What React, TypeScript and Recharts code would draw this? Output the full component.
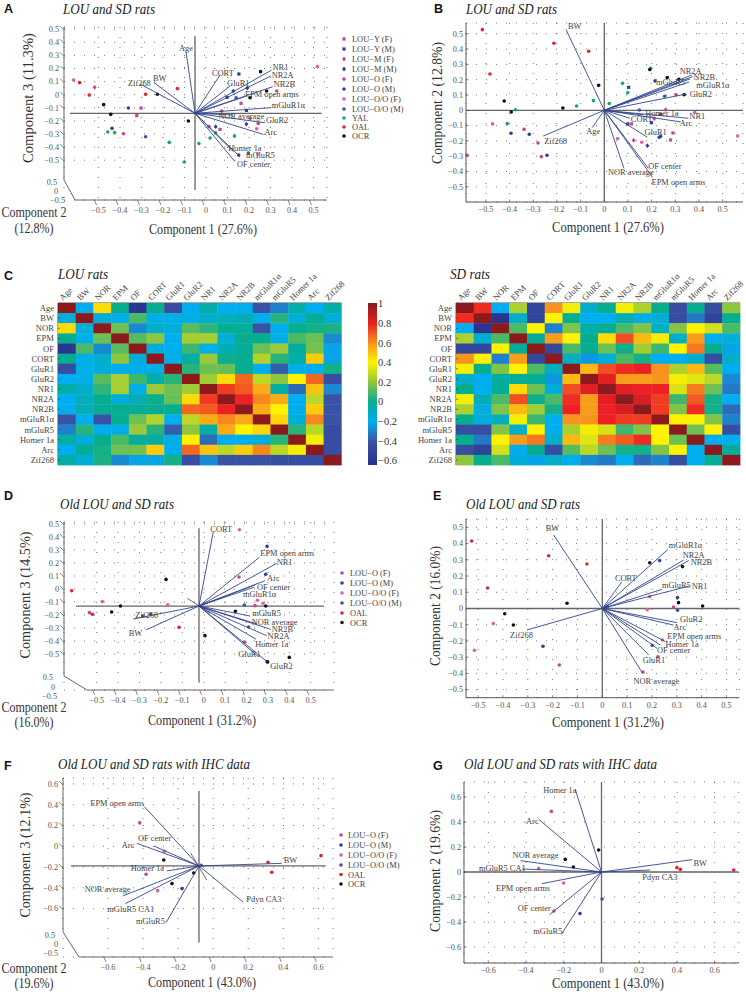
import React from 'react';
import { ScatterChart, Scatter, XAxis, YAxis, CartesianGrid, ReferenceLine, BarChart, Bar } from 'recharts';

const SERIF = '"Liberation Serif", "Times New Roman", serif';
const SANS = '"Liberation Sans", Arial, sans-serif';
const LINE_BLUE = '#33458f';

// ---- panel A ----
const aNames = ['Age', 'CORT', 'Zif268', 'BW', 'NR1', 'NR2A', 'NR2B', 'GluR1', 'EPM open arms', 'mGluR1α', 'NOR average', 'GluR2', 'Arc', 'Homer 1a', 'mGluR5', 'OF center'];
const aVecX = [-0.093, 0.065, -0.307, -0.242, 0.305, 0.301, 0.31, 0.112, 0.181, 0.301, 0.127, 0.274, 0.267, 0.127, 0.158, 0.135];
const aVecY = [0.328, 0.15, 0.081, 0.092, 0.188, 0.142, 0.061, 0.066, -0.015, -0.099, -0.155, -0.214, -0.303, -0.435, -0.473, -0.511];
const aPoints: [string, number[][]][] = [
  ['LOU−Y (F)', [[-0.302, -0.102], [-0.322, -0.16], [0.163, -0.066], [0.065, -0.265]]],
  ['LOU−Y (M)', [[0.153, 0.158], [0.098, -0.02], [0.188, -0.12]]],
  ['LOU−M (F)', [[-0.518, 0.056], [0.073, -0.125], [0.205, -0.181]]],
  ['LOU−M (M)', [[0.127, 0.028], [0.192, 0.051], [0.188, -0.224], [0.045, -0.244]]],
  ['LOU−O (F)', [[0.329, 0.028], [-0.384, -0.298], [0.243, -0.219], [0.014, -0.244]]],
  ['LOU−O (M)', [[-0.361, -0.102], [-0.437, -0.257], [0.152, -0.461]]],
  ['LOU−O/O (F)', [[0.518, 0.214], [-0.616, 0.112], [0.236, -0.26], [0.24, -0.453]]],
  ['LOU−O/O (M)', [[0.14, -0.023], [-0.281, -0.321], [0.197, -0.445]]],
  ['YAL', [[-0.457, -0.285], [-0.425, -0.288], [-0.171, -0.364], [-0.033, -0.372], [0.019, -0.331], [0.045, -0.29], [0.132, -0.316], [-0.101, -0.514]]],
  ['OAL', [[-0.588, 0.092], [-0.543, -0.003], [-0.281, 0.003], [-0.133, 0.046]]],
  ['OCR', [[0.254, 0.176], [0.282, 0.028], [0.205, -0.023], [-0.226, 0.003], [-0.476, -0.076], [-0.443, -0.15], [-0.082, -0.201]]],
];

// ---- panel B ----
const bNames = ['BW', 'NR2A', 'NR2B', 'mGluR5', 'mGluR1α', 'GluR2', 'Homer 1a', 'NR1', 'Arc', 'CORT', 'GluR1', 'OF center', 'EPM open arms', 'NOR average', 'Age', 'Zif268'];
const bVecX = [-0.162, 0.369, 0.373, 0.362, 0.359, 0.348, 0.165, 0.355, 0.323, 0.108, 0.182, 0.186, 0.204, 0.083, -0.051, -0.258];
const bVecY = [0.529, 0.231, 0.22, 0.205, 0.185, 0.107, -0.03, -0.052, -0.076, -0.052, -0.176, -0.379, -0.438, -0.379, -0.113, -0.168];
const bPoints: [string, number[][]][] = [
  ['LOU−Y (F)', [[-0.339, -0.124], [0.115, -0.089], [0.28, -0.194], [0.29, -0.148]]],
  ['LOU−Y (M)', [[0.103, 0.15], [0.099, -0.089], [0.199, -0.081]]],
  ['LOU−M (F)', [[0.211, -0.054], [0.259, 0.004], [0.124, -0.196]]],
  ['LOU−M (M)', [[0.214, 0.192], [0.182, -0.231], [0.238, -0.17]]],
  ['LOU−O (F)', [[-0.58, -0.294], [-0.28, -0.214], [-0.266, -0.303], [0.303, 0.102]]],
  ['LOU−O (M)', [[-0.394, -0.15], [-0.317, -0.157], [-0.242, -0.294], [0.232, -0.176]]],
  ['LOU−O/O (F)', [[-0.472, -0.089], [0.056, -0.185], [0.158, -0.209], [0.382, -0.013], [0.563, -0.168]]],
  ['LOU−O/O (M)', [[0.255, 0.092], [0.148, 0.002], [0.238, -0.026]]],
  ['YAL', [[-0.375, 0.004], [-0.41, -0.087], [-0.117, 0.028], [-0.046, 0.063], [0.021, 0.044], [0.077, 0.176], [0.099, 0.115], [0.196, 0.275]]],
  ['OAL', [[-0.515, 0.527], [-0.483, 0.237], [-0.213, 0.438], [-0.066, 0.386]]],
  ['OCR', [[-0.423, 0.061], [-0.393, -0.011], [-0.175, 0.015], [-0.024, 0.163], [0.192, 0.266], [0.266, 0.214], [0.315, 0.203], [0.337, 0.102]]],
];

// ---- panel C ----
const heatLabels = ['Age', 'BW', 'NOR', 'EPM', 'OF', 'CORT', 'GluR1', 'GluR2', 'NR1', 'NR2A', 'NR2B', 'mGluR1α', 'mGluR5', 'Homer 1a', 'Arc', 'Zif268'];
const louMatrix = [
  [1, -0.2, 0.45, 0, -0.6, 0, -0.45, -0.2, -0.05, -0.2, -0.2, -0.42, -0.3, -0.05, -0.2, -0.05],
  [-0.15, 1, -0.15, -0.18, 0.1, -0.18, -0.18, -0.18, -0.12, -0.1, -0.08, -0.2, 0.05, -0.15, -0.02, -0.15],
  [0.45, -0.15, 1, 0.15, -0.28, -0.12, -0.15, 0.12, 0.06, 0, -0.02, -0.42, -0.2, 0, 0.02, 0.03],
  [0, -0.18, 0.15, 1, 0.12, 0.2, -0.2, 0.24, 0.24, -0.15, 0, 0, -0.18, 0.1, 0.15, -0.28],
  [-0.6, 0.1, -0.28, 0.12, 1, -0.15, -0.2, 0.08, -0.18, -0.08, -0.02, 0.15, 0.22, -0.03, 0.16, -0.22],
  [0, -0.18, -0.12, 0.2, -0.15, 1, -0.18, -0.05, 0.22, 0.01, 0, 0.26, 0.05, -0.05, 0.48, -0.22],
  [-0.45, -0.18, -0.15, -0.2, -0.2, -0.18, 1, 0.05, 0.15, 0.14, 0, -0.2, -0.38, -0.18, -0.2, 0.02],
  [-0.2, -0.18, 0.12, 0.24, 0.08, -0.05, 0.05, 1, 0.23, 0.45, 0.68, 0.28, 0.2, 0.4, 0.68, -0.45],
  [-0.05, -0.12, 0.06, 0.24, -0.18, 0.22, 0.15, 0.23, 1, 0.75, 0.7, 0.55, -0.05, -0.35, 0.5, -0.28],
  [-0.2, -0.1, 0, -0.15, -0.08, 0.01, 0.14, 0.45, 0.75, 1, 0.8, 0.62, 0.55, -0.2, 0.28, -0.42],
  [-0.2, -0.08, -0.02, 0, -0.02, 0, 0, 0.68, 0.7, 0.8, 1, 0.55, 0.4, -0.2, 0.48, -0.42],
  [-0.42, -0.2, -0.42, 0, 0.15, 0.26, -0.2, 0.28, 0.55, 0.62, 0.55, 1, 0.46, -0.15, 0.62, -0.42],
  [-0.3, 0.05, -0.2, -0.18, 0.22, 0.05, -0.38, 0.2, -0.05, 0.55, 0.4, 0.46, 1, 0.05, 0.28, -0.45],
  [-0.05, -0.15, 0, 0.1, -0.03, -0.05, -0.18, 0.4, -0.35, -0.2, -0.2, -0.15, 0.05, 1, 0.38, -0.45],
  [-0.2, -0.02, 0.02, 0.15, 0.16, 0.48, -0.2, 0.68, 0.5, 0.28, 0.48, 0.62, 0.28, 0.38, 1, -0.45],
  [-0.05, -0.15, 0.03, -0.28, -0.22, -0.22, 0.02, -0.45, -0.28, -0.42, -0.42, -0.42, -0.45, -0.45, -0.45, 1],
];
const sdMatrix = [
  [1, 0.78, -0.2, 0.25, -0.5, 0.6, 0.38, -0.12, 0, 0.38, 0.25, 0, -0.45, 0, -0.45, 0.2],
  [0.78, 1, -0.62, -0.12, -0.5, 0.4, 0, -0.2, -0.2, -0.08, -0.17, -0.15, -0.45, -0.32, -0.52, 0],
  [-0.2, -0.62, 1, 0.1, 0.4, -0.3, 0.18, -0.05, -0.02, 0.1, 0.18, -0.1, 0.18, 0.4, 0.32, 0.1],
  [0.25, -0.12, 0.1, 1, -0.02, 0.58, 0.4, 0, 0.45, 0.72, 0.52, 0.38, -0.12, 0.58, -0.2, -0.15],
  [-0.5, -0.5, 0.4, -0.02, 1, -0.48, 0.1, 0, 0.15, 0.01, 0.23, 0.08, 0.4, 0.65, 0, -0.22],
  [0.6, 0.4, -0.3, 0.58, -0.48, 1, -0.1, -0.25, -0.15, 0.1, 0.02, -0.2, -0.2, -0.12, -0.45, -0.12],
  [0.38, 0, 0.18, 0.4, 0.1, -0.1, 1, 0.52, 0.72, 0.78, 0.8, 0.6, 0.25, 0.52, 0.12, -0.2],
  [-0.12, -0.2, -0.03, -0.02, -0.02, -0.25, 0.52, 1, 0.82, 0.58, 0.58, 0.6, 0.38, 0.34, 0.28, -0.28],
  [0, -0.2, -0.02, 0.45, 0.15, -0.15, 0.72, 0.82, 1, 0.82, 0.8, 0.8, 0.33, 0.64, 0.15, -0.32],
  [0.38, -0.08, 0.1, 0.72, 0.01, 0.1, 0.78, 0.58, 0.82, 1, 0.85, 0.75, 0.08, 0.7, 0.02, -0.2],
  [0.25, -0.17, 0.18, 0.52, 0.23, 0.02, 0.8, 0.58, 0.8, 0.85, 1, 0.75, 0.18, 0.78, 0.02, -0.35],
  [0, -0.15, -0.1, 0.38, 0.08, -0.2, 0.6, 0.6, 0.8, 0.75, 0.75, 1, 0.4, 0.4, 0.18, -0.3],
  [-0.45, -0.45, 0.18, -0.12, 0.4, -0.2, 0.25, 0.38, 0.33, 0.08, 0.18, 0.4, 1, 0.15, 0.4, -0.45],
  [0, -0.32, 0.4, 0.58, 0.65, -0.12, 0.52, 0.34, 0.64, 0.7, 0.78, 0.4, 0.15, 1, -0.2, -0.2],
  [-0.45, -0.52, 0.32, -0.2, 0, -0.45, 0.12, 0.28, 0.15, 0.02, 0.02, 0.18, 0.4, -0.2, 1, -0.02],
  [0.2, 0, 0.1, -0.15, -0.22, -0.12, -0.2, -0.28, -0.32, -0.2, -0.35, -0.3, -0.45, -0.2, -0.02, 1],
];
const colorbarTicks = [1, 0.8, 0.6, 0.4, 0.2, 0, -0.2, -0.4, -0.6];
const colorStops: [number, string][] = [
  [-0.65, '#252f8c'], [-0.4, '#3a55a6'], [-0.2, '#00aeef'], [0, '#06ad8f'], [0.2, '#8fc63f'],
  [0.4, '#fff200'], [0.6, '#f7941d'], [0.8, '#ed2024'], [1, '#8c1a1c'],
];

// ---- panel D ----
const dNames = ['CORT', 'EPM open arms', 'NR1', 'Arc', 'OF center', 'mGluR1α', 'mGluR5', 'NOR average', 'NR2B', 'NR2A', 'Homer 1a', 'GluR1', 'GluR2', 'Zif268', 'BW'];
const dVecX = [0.045, 0.26, 0.341, 0.287, 0.24, 0.235, 0.217, 0.248, 0.313, 0.294, 0.245, 0.255, 0.302, -0.329, -0.271];
const dVecY = [0.441, 0.244, 0.197, 0.064, 0.031, 0.013, -0.208, -0.269, -0.31, -0.359, -0.387, -0.52, -0.567, -0.231, -0.315];
const dPoints: [string, number[][]][] = [
  ['LOU−O (F)', [[0.165, 0.092], [0.24, -0.128], [-0.534, -0.182], [0.19, -0.408]]],
  ['LOU−O (M)', [[0.296, 0.328], [0.29, 0.113], [0.296, -0.559]]],
  ['LOU−O/O (F)', [[0.167, 0.456], [0.251, -0.087], [0.277, -0.11], [-0.474, -0.097], [-0.168, -0.121]]],
  ['LOU−O/O (M)', [[0.19, -0.123], [0.21, -0.292], [-0.248, -0.192]]],
  ['OAL', [[-0.617, -0.013], [-0.52, -0.195], [-0.285, -0.208], [-0.115, -0.295]]],
  ['OCR', [[-0.176, 0.074], [-0.389, -0.131], [-0.43, -0.177], [0.148, -0.172], [0.29, -0.131], [0.006, -0.359], [0.4, -0.526], [0.299, -0.562]]],
];

// ---- panel E ----
const eNames = ['BW', 'mGluR1α', 'NR2A', 'NR2B', 'CORT', 'mGluR5', 'NR1', 'GluR2', 'Arc', 'EPM open arms', 'Homer 1a', 'OF center', 'GluR1', 'NOR average', 'Zif268'];
const eVecX = [-0.196, 0.264, 0.328, 0.348, 0.079, 0.24, 0.352, 0.301, 0.287, 0.254, 0.234, 0.22, 0.187, 0.162, -0.303];
const eVecY = [0.453, 0.364, 0.299, 0.295, 0.165, 0.118, 0.139, -0.087, -0.102, -0.204, -0.225, -0.245, -0.286, -0.399, -0.132];
const ePoints: [string, number[][]][] = [
  ['LOU−O (F)', [[-0.173, -0.348], [0.164, -0.391], [0.224, -0.297], [0.287, 0.009]]],
  ['LOU−O (M)', [[-0.239, -0.233], [0.231, 0.295], [0.303, 0.067]]],
  ['LOU−O/O (F)', [[-0.515, -0.258], [-0.439, -0.093], [0.181, -0.007], [0.191, 0.073], [0.242, -0.194]]],
  ['LOU−O/O (M)', [[0.201, -0.227], [0.303, -0.011], [0.021, 0.011]]],
  ['OAL', [[-0.526, 0.416], [-0.462, 0.126], [-0.216, 0.325], [-0.062, 0.274]]],
  ['OCR', [[-0.393, -0.032], [-0.358, -0.102], [-0.142, 0.032], [0.191, 0.282], [0.323, 0.258], [0.307, 0.036], [0.404, 0.015]]],
];

// ---- panel F ----
const fNames = ['EPM open arms', 'OF center', 'Arc', 'Homer 1a', 'NOR average', 'mGluR5 CA1', 'mGluR5', 'Pdyn CA3', 'BW'];
const fVecX = [-0.393, -0.338, -0.436, -0.265, -0.516, -0.501, -0.269, 0.172, 0.391];
const fVecY = [0.382, 0.003, 0.029, -0.237, -0.478, -0.552, -0.735, -0.539, -0.164];
const fPoints: [string, number[][]][] = [
  ['LOU−O (F)', [[-0.419, 0.225], [-0.383, -0.269]]],
  ['LOU−O (M)', [[-0.178, -0.407]]],
  ['LOU−O/O (F)', [[-0.279, -0.048], [-0.317, -0.427]]],
  ['LOU−O/O (M)', [[-0.069, -0.183]]],
  ['OAL', [[0.313, -0.154], [0.334, -0.25], [0.615, -0.09]]],
  ['OCR', [[-0.282, -0.132], [-0.235, -0.359], [-0.111, -0.257]]],
];

// ---- panel G ----
const gNames = ['Homer 1a', 'Arc', 'NOR average', 'mGluR5 CA1', 'EPM open arms', 'OF center', 'mGluR5', 'BW', 'Pdyn CA3'];
const gVecX = [-0.139, -0.331, -0.429, -0.422, -0.315, -0.275, -0.213, 0.482, 0.259];
const gVecY = [0.659, 0.419, 0.091, 0.024, -0.093, -0.341, -0.499, 0.099, 0.016];
const gPoints: [string, number[][]][] = [
  ['LOU−O (F)', [[-0.266, 0.485], [-0.252, -0.312]]],
  ['LOU−O (M)', [[-0.114, -0.333]]],
  ['LOU−O/O (F)', [[-0.333, 0.029], [-0.201, -0.088]]],
  ['LOU−O/O (M)', [[0.003, -0.216]]],
  ['OAL', [[0.4, 0.035], [0.418, 0.021], [0.701, 0.016]]],
  ['OCR', [[-0.192, 0.101], [-0.149, 0.04], [-0.015, 0.176]]],
];

const ticks5 = [-0.5, -0.4, -0.3, -0.2, -0.1, 0, 0.1, 0.2, 0.3, 0.4, 0.5];
const ticks6 = [-0.6, -0.4, -0.2, 0, 0.2, 0.4, 0.6];
const legendFull = ['LOU−Y (F)', 'LOU−Y (M)', 'LOU−M (F)', 'LOU−M (M)', 'LOU−O (F)', 'LOU−O (M)', 'LOU−O/O (F)', 'LOU−O/O (M)', 'YAL', 'OAL', 'OCR'];
const legendOld = ['LOU−O (F)', 'LOU−O (M)', 'LOU−O/O (F)', 'LOU−O/O (M)', 'OAL', 'OCR'];

const groupStyle: Record<string, { color: string; mark: string }> = {
  'LOU−Y (F)': { color: '#c8458f', mark: 'square' },
  'LOU−Y (M)': { color: '#2f3f9b', mark: 'square' },
  'LOU−M (F)': { color: '#c8458f', mark: 'diamond' },
  'LOU−M (M)': { color: '#2f3f9b', mark: 'diamond' },
  'LOU−O (F)': { color: '#c8458f', mark: 'circle' },
  'LOU−O (M)': { color: '#2f3f9b', mark: 'circle' },
  'LOU−O/O (F)': { color: '#d862a8', mark: 'circle' },
  'LOU−O/O (M)': { color: '#3c55a5', mark: 'circle' },
  YAL: { color: '#16a76b', mark: 'circle' },
  OAL: { color: '#e3242b', mark: 'circle' },
  OCR: { color: '#111111', mark: 'circle' },
};

// pixel offsets of the loading labels from the tip of their line
const aOffsets = [[-7, -4], [-8, -2], [-12, -1], [-1, -4], [1, -3], [1, -1], [1, -3], [-3, -3], [0, -2], [1, -2], [-15, 1], [1, -3], [1, -2], [-5, -3], [6, -1], [2, 3]];
const bOffsets = [[2, -3], [-12, -4], [1, 1], [-34, 3], [7, 3], [3, 0], [2, -2], [1, -2], [-1, 1], [1, 1], [-3, -5], [0, -2], [-1, 5], [-16, 4], [-6, 4], [1, 5]];
const dOffsets = [[-3, -2], [1, -4], [0, -1], [2, -2], [2, 2], [-11, 7], [2, -3], [-5, -2], [1, 0], [1, 1], [-1, 5], [-20, -2], [2, 3], [2, -4], [-17, 3]];
const eOffsets = [[-8, -7], [1, -4], [-1, -5], [2, 2], [-7, -4], [0, -4], [2, 0], [3, -3], [0, 2], [2, -5], [5, -1], [0, 2], [-6, 5], [-9, 8], [-17, 5]];
const fOffsets = [[-54, -3], [-16, -8], [-15, 2], [-36, -3], [-38, -7], [-18, 6], [-30, -1], [3, -3], [2, -3]];
const gOffsets = [[-32, 1], [-13, 2], [-8, -5], [-43, -1], [-46, 5], [-32, -6], [-28, -3], [1, 4], [-8, 7]];

const fmt = (v: number) => (v < 0 ? '−' + Math.abs(v) : String(v));
const NoDot = () => <g />;

function Marker({ cx, cy, group }: any) {
  const { color, mark } = groupStyle[group];
  if (mark === 'square') return <rect x={cx - 1.6} y={cy - 1.6} width={3.2} height={3.2} fill={color} />;
  if (mark === 'diamond') return <path d={`M${cx} ${cy - 2.4}L${cx + 2} ${cy}L${cx} ${cy + 2.4}L${cx - 2} ${cy}Z`} fill={color} />;
  return <circle cx={cx} cy={cy} r={1.8} fill={color} />;
}

function Biplot({ plot, cal, xTicks, yTicks, origin, crossX, crossY, depth, names, vx, vy, offsets, points, tilted }: any) {
  const [L, R, T, B] = plot;
  const [x0, kx, y0, ky] = cal;
  const xDomain = [(L - x0) / kx, (R - x0) / kx];
  const yDomain = [(y0 - B) / ky, (y0 - T) / ky];
  const hx = crossX || xDomain;
  const vy2 = crossY || yDomain;
  const labels = names.map((name: string, i: number) => ({ x: vx[i], y: vy[i], name, dx: offsets[i][0], dy: offsets[i][1] }));

  const xTick = ({ x, y, payload }: any) => (
    <g>
      {tilted
        ? <line x1={x - 4} y1={y} x2={x - 2} y2={y + 5} stroke="#555" strokeWidth={0.7} />
        : <line x1={x} y1={y} x2={x} y2={y - 2.5} stroke="#555" strokeWidth={0.7} />}
      <text x={x} y={y + (tilted ? 13 : 10)} textAnchor="middle" fontFamily={SERIF} fontSize={8.2} fill="#555">{fmt(payload.value)}</text>
    </g>
  );
  const yTick = ({ x, y, payload }: any) => (
    <g>
      {tilted
        ? <line x1={x - 4} y1={y - 3} x2={x} y2={y + 1} stroke="#555" strokeWidth={0.7} />
        : <line x1={x} y1={y} x2={x + 2.5} y2={y} stroke="#555" strokeWidth={0.7} />}
      <text x={x - (tilted ? 5 : 3)} y={y} dy={2.8} textAnchor="end" fontFamily={SERIF} fontSize={8.2} fill="#555">{fmt(payload.value)}</text>
    </g>
  );
  const labelShape = ({ cx, cy, payload }: any) => (
    <text x={cx + payload.dx} y={cy + payload.dy} dy={2.8} fontFamily={SERIF} fontSize={8.4} fill="#444">{payload.name}</text>
  );

  return (
    <div style={{ position: 'absolute', left: L - 40, top: T - 6 }}>
      <ScatterChart width={R - L + 43} height={B - T + 28} margin={{ top: 6, right: 3, bottom: 6, left: 10 }} style={{ overflow: 'visible' }}>
        <CartesianGrid stroke="#555" strokeWidth={0.8} strokeDasharray="1 9" />
        <XAxis type="number" dataKey="x" domain={xDomain} ticks={xTicks} interval={0} height={16} axisLine={tilted ? false : { stroke: '#555' }} tickLine={false} tickSize={0} tickMargin={0} tick={xTick} />
        <YAxis type="number" dataKey="y" domain={yDomain} ticks={yTicks} interval={0} width={30} axisLine={tilted ? false : { stroke: '#555' }} tickLine={false} tickSize={0} tickMargin={0} tick={yTick} />
        <ReferenceLine segment={[{ x: hx[0], y: origin[1] }, { x: hx[1], y: origin[1] }]} stroke="#666" strokeWidth={1.3} />
        <ReferenceLine segment={[{ x: origin[0], y: vy2[0] }, { x: origin[0], y: vy2[1] }]} stroke="#666" strokeWidth={1.3} />
        {depth && <ReferenceLine segment={[{ x: depth[0], y: depth[1] }, { x: depth[2], y: depth[3] }]} stroke="#444" strokeWidth={0.8} />}
        {points.map(([group, pts]: any) => (
          <Scatter key={group} data={pts.map((p: number[]) => ({ x: p[0], y: p[1] }))} isAnimationActive={false}
            shape={(s: any) => <Marker cx={s.cx} cy={s.cy} group={group} />} />
        ))}
        {names.map((name: string, i: number) => (
          <Scatter key={name} data={[{ x: origin[0], y: origin[1] }, { x: vx[i], y: vy[i] }]} line={{ stroke: LINE_BLUE, strokeWidth: 0.9 }} shape={NoDot} isAnimationActive={false} />
        ))}
        <Scatter data={labels} shape={labelShape} isAnimationActive={false} />
      </ScatterChart>
    </div>
  );
}

const colorOf = (v: number) => {
  for (let i = 1; i < colorStops.length; i++) {
    if (v <= colorStops[i][0]) {
      const [a, ca] = colorStops[i - 1];
      const [b, cb] = colorStops[i];
      const t = Math.max(0, (v - a) / (b - a));
      const mix = (s: number) => Math.round(parseInt(ca.substr(s, 2), 16) * (1 - t) + parseInt(cb.substr(s, 2), 16) * t);
      return `rgb(${mix(1)},${mix(3)},${mix(5)})`;
    }
  }
  return colorStops[colorStops.length - 1][1];
};

function Heatmap({ L, T, W, H, matrix }: any) {
  const cells = matrix.flatMap((row: number[], r: number) => row.map((value, c) => ({ x: c + 0.5, y: r + 0.5, value })));
  const ticks = heatLabels.map((_, i) => i + 0.5);
  const cw = W / 16;
  const ch = H / 16;
  const cell = ({ cx, cy, payload }: any) => (
    <rect x={cx - cw / 2} y={cy - ch / 2} width={cw + 0.4} height={ch + 0.4} fill={colorOf(payload.value)} />
  );
  const xTick = ({ x, y, payload }: any) => (
    <text transform={`translate(${x - 4} ${y - 2}) rotate(-45)`} fontFamily={SERIF} fontSize={8.6} fill="#444">{heatLabels[payload.value - 0.5]}</text>
  );
  const yTick = ({ x, y, payload }: any) => (
    <g>
      <line x1={x} y1={y} x2={x + 2} y2={y} stroke="#333" strokeWidth={0.6} />
      <text x={x - 4} y={y} dy={3} textAnchor="end" fontFamily={SERIF} fontSize={8.6} fill="#444">{heatLabels[payload.value - 0.5]}</text>
    </g>
  );
  return (
    <div style={{ position: 'absolute', left: L - 50, top: T - 46 }}>
      <ScatterChart width={W + 64} height={H + 48} margin={{ top: 16, right: 14, bottom: 2, left: 0 }} style={{ overflow: 'visible' }}>
        <XAxis type="number" orientation="top" dataKey="x" domain={[0, 16]} ticks={ticks} interval={0} height={30} axisLine={{ stroke: '#555' }} tickLine={false} tickSize={0} tickMargin={0} tick={xTick} />
        <YAxis type="number" dataKey="y" reversed domain={[0, 16]} ticks={ticks} interval={0} width={50} axisLine={{ stroke: '#555' }} tickLine={false} tickSize={0} tickMargin={0} tick={yTick} />
        <Scatter data={cells} shape={cell} isAnimationActive={false} />
      </ScatterChart>
    </div>
  );
}

function Colorbar() {
  const lo = -0.644;
  const hi = 1.01;
  const tick = ({ x, y, payload }: any) => (
    <text x={x + 1} y={y} dy={3.5} fontFamily={SERIF} fontSize={10.5} fill="#333">{fmt(payload.value)}</text>
  );
  return (
    <div style={{ position: 'absolute', left: 367.7, top: 295 }}>
      <BarChart width={36} height={178} data={[{ name: 'scale', range: [lo, hi] }]} margin={{ top: 8, right: 0, bottom: 8, left: 0 }} barCategoryGap={0} style={{ overflow: 'visible' }}>
        <defs>
          <linearGradient id="corrScale" x1="0" y1="1" x2="0" y2="0">
            {colorStops.map(([v, c]) => <stop key={v} offset={(v - lo) / (hi - lo)} stopColor={c} />)}
          </linearGradient>
        </defs>
        <XAxis dataKey="name" hide />
        <YAxis orientation="right" domain={[lo, hi]} ticks={colorbarTicks} interval={0} width={27} axisLine={false} tickLine={false} tickSize={0} tickMargin={0} tick={tick} />
        <Bar dataKey="range" fill="url(#corrScale)" isAnimationActive={false} />
      </BarChart>
    </div>
  );
}

const Title = ({ x, y, w, children }: any) => (
  <text x={x} y={y} dy={4} fontFamily={SERIF} fontStyle="italic" fontSize={14} fill="#222" textLength={w} lengthAdjust="spacingAndGlyphs">{children}</text>
);
const Letter = ({ x, y, children }: any) => (
  <text x={x} y={y} fontFamily={SANS} fontWeight="bold" fontSize={12.5} fill="#111">{children}</text>
);
const AxisTitle = ({ x, y, w, vertical, children }: any) => (
  <text transform={`translate(${x} ${y})${vertical ? ' rotate(-90)' : ''}`} dy={4.5} textAnchor="middle" fontFamily={SERIF} fontSize={14} fill="#333" textLength={w} lengthAdjust="spacingAndGlyphs">{children}</text>
);
const Small = ({ x, y, children }: any) => (
  <text x={x} y={y} dy={2.8} textAnchor="end" fontFamily={SERIF} fontSize={8.2} fill="#555">{children}</text>
);
const Legend = ({ items, ys, mx, tx }: any) => (
  <g>
    {items.map((name: string, i: number) => (
      <g key={name}>
        <Marker cx={mx} cy={ys[i]} group={name} />
        <text x={tx} y={ys[i]} dy={3} fontFamily={SERIF} fontSize={8.4} fill="#444">{name}</text>
      </g>
    ))}
  </g>
);
const Frame = ({ pts }: any) => <polyline points={pts} fill="none" stroke="#555" strokeWidth={0.9} />;

export default function App() {
  return (
    <div style={{ position: 'absolute', left: 0, top: 0, width: 746, height: 992, background: '#fff', overflow: 'hidden' }}>
      <svg width={746} height={992} style={{ position: 'absolute', left: 0, top: 0 }}>
        <Letter x={4} y={13}>A</Letter>
        <Letter x={434} y={13}>B</Letter>
        <Letter x={4} y={280}>C</Letter>
        <Letter x={4} y={500}>D</Letter>
        <Letter x={433} y={500}>E</Letter>
        <Letter x={4} y={770}>F</Letter>
        <Letter x={433} y={770}>G</Letter>

        <Title x={63} y={10} w={92}>LOU and SD rats</Title>
        <Title x={466} y={10} w={91}>LOU and SD rats</Title>
        <Title x={58} y={275} w={50}>LOU rats</Title>
        <Title x={450} y={275} w={40}>SD rats</Title>
        <Title x={60} y={505} w={114}>Old LOU and SD rats</Title>
        <Title x={466} y={505} w={114}>Old LOU and SD rats</Title>
        <Title x={58} y={765} w={192}>Old LOU and SD rats with IHC data</Title>
        <Title x={464} y={765} w={193}>Old LOU and SD rats with IHC data</Title>

        <AxisTitle x={203} y={229} w={108}>Component 1 (27.6%)</AxisTitle>
        <AxisTitle x={28} y={98} w={130} vertical>Component 3 (11.3%)</AxisTitle>
        <AxisTitle x={34} y={212} w={65}>Component 2</AxisTitle>
        <AxisTitle x={34} y={228} w={39}>(12.8%)</AxisTitle>
        <AxisTitle x={608} y={227} w={112}>Component 1 (27.6%)</AxisTitle>
        <AxisTitle x={437} y={103} w={122} vertical>Component 2 (12.8%)</AxisTitle>
        <AxisTitle x={202} y={720} w={108}>Component 1 (31.2%)</AxisTitle>
        <AxisTitle x={25} y={595} w={127} vertical>Component 3 (14.5%)</AxisTitle>
        <AxisTitle x={34} y={707} w={65}>Component 2</AxisTitle>
        <AxisTitle x={34} y={722} w={39}>(16.0%)</AxisTitle>
        <AxisTitle x={608} y={722} w={112}>Component 1 (31.2%)</AxisTitle>
        <AxisTitle x={435} y={606} w={120} vertical>Component 2 (16.0%)</AxisTitle>
        <AxisTitle x={202} y={982} w={108}>Component 1 (43.0%)</AxisTitle>
        <AxisTitle x={25} y={855} w={125} vertical>Component 3 (12.1%)</AxisTitle>
        <AxisTitle x={34} y={968} w={65}>Component 2</AxisTitle>
        <AxisTitle x={34} y={983} w={39}>(19.6%)</AxisTitle>
        <AxisTitle x={608} y={983} w={112}>Component 1 (43.0%)</AxisTitle>
        <AxisTitle x={435} y={871} w={122} vertical>Component 2 (19.6%)</AxisTitle>

        <Frame pts="64,27 64,180 75,200 327,200" />
        <Frame pts="64,522 64,676 87,690 334,690" />
        <Frame pts="63,778 63,932 79,957 333,957" />
        <Small x={57} y={182}>0.5</Small>
        <Small x={58} y={191}>0</Small>
        <Small x={65} y={200}>−0.5</Small>
        <Small x={53} y={677}>0.5</Small>
        <Small x={55} y={687}>0</Small>
        <Small x={57} y={696}>−0.5</Small>
        <Small x={55} y={935}>0.5</Small>
        <Small x={58} y={944}>0</Small>
        <Small x={58} y={953}>−0.5</Small>

        <Legend items={legendFull} ys={[39, 49, 59, 69, 79, 89, 99, 109, 118, 127, 136]} mx={344} tx={352} />
        <Legend items={legendOld} ys={[573, 583, 593, 603, 613, 622.5]} mx={342} tx={350} />
        <Legend items={legendOld} ys={[835, 845, 855, 865, 874.5, 884]} mx={341} tx={348} />
      </svg>

      <Biplot plot={[64, 327, 27, 200]} cal={[206, 215, 94.7, 131]} xTicks={ticks5} yTicks={ticks5} tilted
        origin={[-0.051, -0.142]} crossX={[-0.633, 0.538]} crossY={[0.448, -0.728]}
        names={aNames} vx={aVecX} vy={aVecY} offsets={aOffsets} points={aPoints} />
      <Biplot plot={[466, 743, 23, 202]} cal={[604.3, 236.7, 110.3, 153]} xTicks={ticks5} yTicks={ticks5}
        origin={[0, 0]} names={bNames} vx={bVecX} vy={bVecY} offsets={bOffsets} points={bPoints} />
      <Heatmap L={57.7} T={303} W={283.3} H={162} matrix={louMatrix} />
      <Heatmap L={455.7} T={303} W={284} H={162} matrix={sdMatrix} />
      <Colorbar />
      <Biplot plot={[64, 334, 522, 690]} cal={[203.7, 214, 589, 130]} xTicks={ticks5} yTicks={ticks5} tilted
        origin={[-0.022, -0.131]} crossX={[-0.597, 0.562]} crossY={[0.467, -0.72]} depth={[-0.076, -0.072, 0.03, -0.187]}
        names={dNames} vx={dVecX} vy={dVecY} offsets={dOffsets} points={dPoints} />
      <Biplot plot={[465.7, 739, 519, 697.7]} cal={[602, 248.3, 608.5, 162.3]} xTicks={ticks5} yTicks={ticks5}
        origin={[0, 0]} names={eNames} vx={eVecX} vy={eVecY} offsets={eOffsets} points={ePoints} />
      <Biplot plot={[63, 333, 778, 957]} cal={[213.2, 175.3, 846.3, 103.9]} xTicks={ticks6} yTicks={ticks6} tilted
        origin={[-0.081, -0.189]} crossX={[-0.811, 0.642]} crossY={[0.533, -0.927]} depth={[-0.128, -0.067, -0.037, -0.324]}
        names={fNames} vx={fVecX} vy={fVecY} offsets={fOffsets} points={fPoints} />
      <Biplot plot={[464.3, 739, 781.7, 962.7]} cal={[601.8, 188.6, 871.7, 125]} xTicks={ticks6} yTicks={ticks6}
        origin={[0, 0]} names={gNames} vx={gVecX} vy={gVecY} offsets={gOffsets} points={gPoints} />
    </div>
  );
}
